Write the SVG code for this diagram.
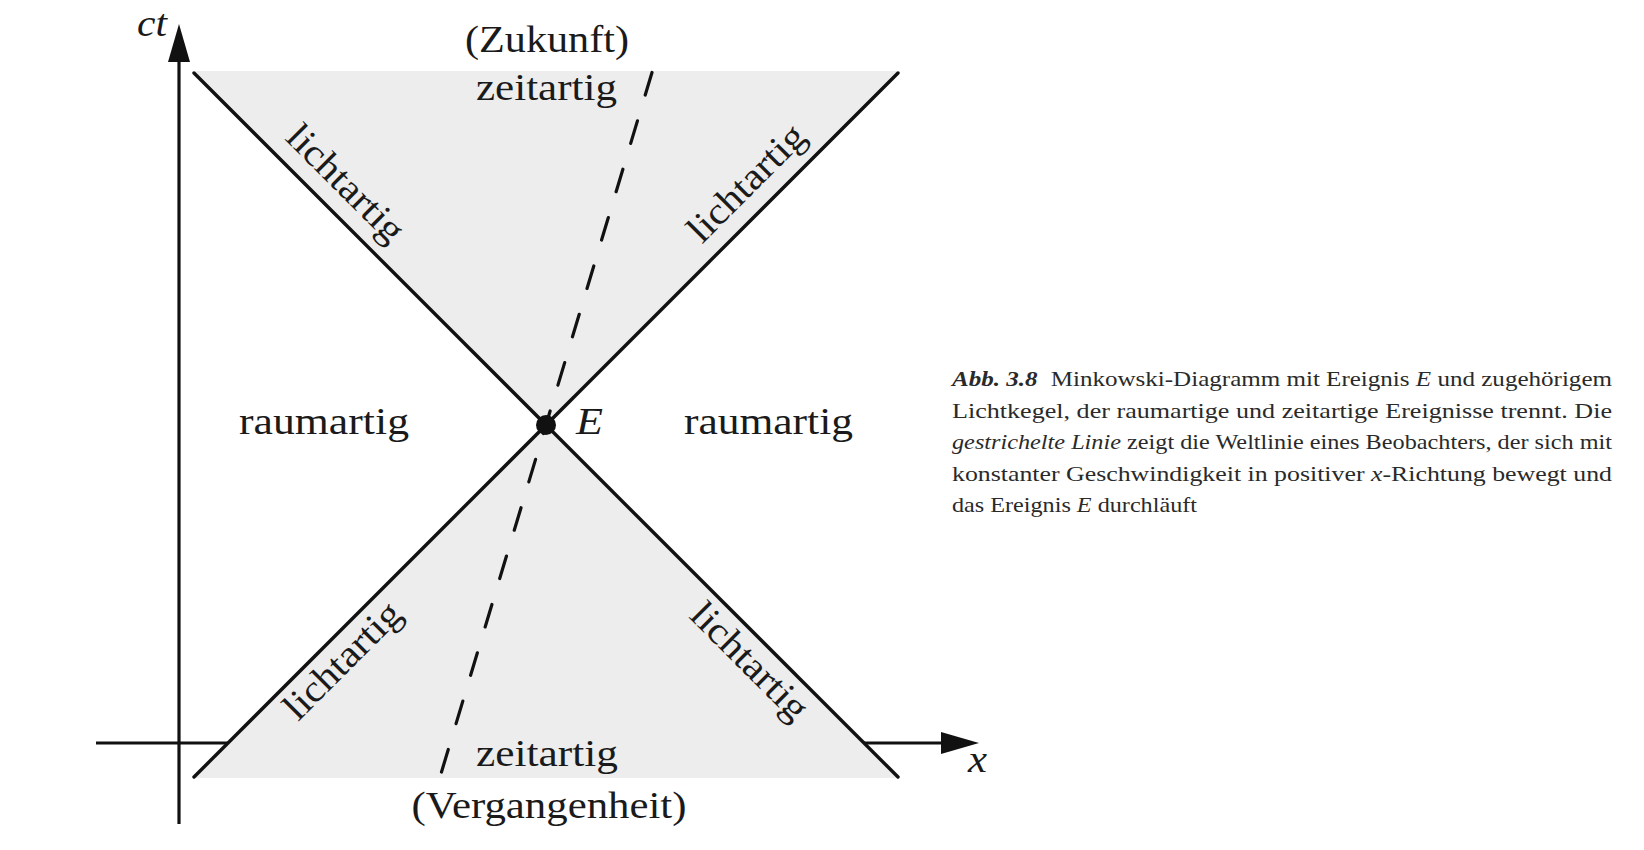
<svg xmlns="http://www.w3.org/2000/svg" width="1644" height="850" viewBox="0 0 1644 850">
<defs>
<marker id="arrow" markerUnits="userSpaceOnUse" viewBox="0 -11 38 22" markerWidth="38" markerHeight="22" refX="1" refY="0" orient="auto">
<path d="M0,-11 L38,0 L0,11 Z" fill="#111"/>
</marker>
<style>
.axis{stroke:#111;stroke-width:3.2;fill:none}
.light{stroke:#111;stroke-width:3.4;fill:none;stroke-linecap:round}
.world{stroke:#111;stroke-width:3.2;fill:none;stroke-linecap:round;stroke-dasharray:23.5 27}
.cone{fill:#ededed;stroke:none}
.lbl{font-family:"Liberation Serif","Times New Roman",serif;font-size:38px;fill:#1a1a1a}
.it{font-style:italic}
.cap{font-family:"Liberation Serif","Times New Roman",serif;font-size:22px;fill:#2a2a2a}
</style>
</defs>
<rect width="1644" height="850" fill="#fff"/>
<g id="axes">
<line class="axis" x1="179" y1="824" x2="179" y2="61" marker-end="url(#arrow)"/>
<line class="axis" x1="96" y1="743" x2="942" y2="743" marker-end="url(#arrow)"/>
</g>
<g id="future-cone"><polygon class="cone" points="192,71 900,71 546,425"/></g>
<g id="past-cone"><polygon class="cone" points="546,425 899,778 193,778"/></g>
<g id="connectors">
<line class="light" x1="194" y1="73" x2="898" y2="777"/>
<line class="light" x1="898" y1="73" x2="194" y2="777"/>
<line class="world" x1="652" y1="72.5" x2="440" y2="777"/>
</g>
<g id="event-E">
<circle cx="546" cy="425" r="10" fill="#111"/>
<text class="lbl it" x="576" y="434" textLength="27" lengthAdjust="spacingAndGlyphs">E</text>
</g>
<g id="axis-labels">
<text class="lbl it" x="167" y="36" text-anchor="end" textLength="30" lengthAdjust="spacingAndGlyphs">ct</text>
<text class="lbl it" x="968" y="771.5" textLength="19" lengthAdjust="spacingAndGlyphs">x</text>
</g>
<g id="future">
<text class="lbl" x="547" y="52" text-anchor="middle" textLength="164" lengthAdjust="spacingAndGlyphs">(Zukunft)</text>
<text class="lbl" x="546.5" y="100" text-anchor="middle" textLength="141" lengthAdjust="spacingAndGlyphs">zeitartig</text>
</g>
<g id="past">
<text class="lbl" x="547" y="765.5" text-anchor="middle" textLength="142" lengthAdjust="spacingAndGlyphs">zeitartig</text>
<text class="lbl" x="549" y="818" text-anchor="middle" textLength="275" lengthAdjust="spacingAndGlyphs">(Vergangenheit)</text>
</g>
<g id="spacelike">
<text class="lbl" x="324" y="434" text-anchor="middle" textLength="170" lengthAdjust="spacingAndGlyphs">raumartig</text>
<text class="lbl" x="768.5" y="433.5" text-anchor="middle" textLength="169" lengthAdjust="spacingAndGlyphs">raumartig</text>
</g>
<g id="lightlike">
<text class="lbl" transform="translate(337,192) rotate(45)" text-anchor="middle" textLength="150" lengthAdjust="spacingAndGlyphs">lichtartig</text>
<text class="lbl" transform="translate(755,191.5) rotate(-45)" text-anchor="middle" textLength="150" lengthAdjust="spacingAndGlyphs">lichtartig</text>
<text class="lbl" transform="translate(351,669) rotate(-45)" text-anchor="middle" textLength="150" lengthAdjust="spacingAndGlyphs">lichtartig</text>
<text class="lbl" transform="translate(741,670) rotate(45)" text-anchor="middle" textLength="150" lengthAdjust="spacingAndGlyphs">lichtartig</text>
</g>
<g id="caption">
<text class="cap" x="952" y="386" textLength="660" lengthAdjust="spacingAndGlyphs"><tspan font-weight="bold" font-style="italic">Abb. 3.8</tspan><tspan dx="6"> Minkowski-Diagramm mit Ereignis </tspan><tspan font-style="italic">E</tspan> und zugehörigem</text>
<text class="cap" x="952" y="417.5" textLength="660" lengthAdjust="spacingAndGlyphs">Lichtkegel, der raumartige und zeitartige Ereignisse trennt. Die</text>
<text class="cap" x="952" y="449" textLength="660" lengthAdjust="spacingAndGlyphs"><tspan font-style="italic">gestrichelte Linie</tspan> zeigt die Weltlinie eines Beobachters, der sich mit</text>
<text class="cap" x="952" y="480.5" textLength="660" lengthAdjust="spacingAndGlyphs">konstanter Geschwindigkeit in positiver <tspan font-style="italic">x</tspan>-Richtung bewegt und</text>
<text class="cap" x="952" y="512" textLength="245" lengthAdjust="spacingAndGlyphs">das Ereignis <tspan font-style="italic">E</tspan> durchläuft</text>
</g>
</svg>
